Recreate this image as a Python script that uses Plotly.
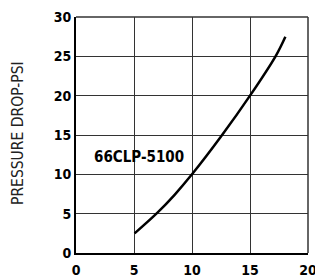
import plotly.graph_objects as go

flow_gpm = [5.05, 7.0, 8.5, 10.0, 12.5, 15.0, 17.2, 18.05]
pressure_psi = [2.5, 5.1, 7.4, 10.0, 14.8, 20.0, 25.0, 27.5]
x_ticks = [0, 5, 10, 15, 20]
y_ticks = [0, 5, 10, 15, 20, 25, 30]
series_label = "66CLP-5100"
y_title = "PRESSURE DROP-PSI"

narrow = "DejaVu Sans Condensed, Liberation Sans Narrow, Arial Narrow, sans-serif"

fig = go.Figure()
fig.add_trace(go.Scatter(x=flow_gpm, y=pressure_psi, mode="lines",
                         line=dict(color="black", width=2.5, shape="spline", smoothing=1.0),
                         showlegend=False, hoverinfo="skip"))
fig.add_annotation(x=1.4, y=12.2, text="<b>" + series_label + "</b>", showarrow=False,
                   xanchor="left", yanchor="middle",
                   font=dict(family=narrow, size=15, color="black"))
fig.add_annotation(xref="paper", yref="paper", x=0, y=0.5, xshift=-58, yshift=2, text=y_title,
                   textangle=-90, showarrow=False, xanchor="center", yanchor="middle",
                   font=dict(family=narrow, size=15.5, color="#222222"))
# top and right frame lines
fig.add_shape(type="line", xref="paper", yref="paper", x0=0, x1=1, y0=1, y1=1,
              line=dict(color="#333333", width=1.5))
fig.add_shape(type="line", xref="paper", yref="paper", x0=1, x1=1, y0=0, y1=1,
              line=dict(color="#333333", width=1.5))

fig.update_xaxes(range=[0, 20], tickvals=x_ticks, ticktext=[f"<b>{v}</b>" for v in x_ticks],
                 showgrid=True, gridcolor="#333333", gridwidth=1.2,
                 showline=True, linecolor="black", linewidth=2, mirror=False,
                 zeroline=False, ticks="", ticklen=0, automargin=False,
                 ticklabeloverflow="allow", ticklabelstandoff=3,
                 tickfont=dict(family=narrow, size=14, color="black"))
fig.update_yaxes(range=[0, 30], tickvals=y_ticks, ticktext=[f"<b>{v}</b>" for v in y_ticks],
                 showgrid=True, gridcolor="#333333", gridwidth=1.2,
                 showline=True, linecolor="black", linewidth=2, mirror=False,
                 zeroline=False, ticks="", ticklen=0, automargin=False,
                 ticklabeloverflow="allow",
                 tickfont=dict(family=narrow, size=14, color="black"))

# the page body adds an 8px offset, so the figure is sized to fit the window
fig.update_layout(width=315, height=272, margin=dict(l=68, r=15, t=9, b=27),
                  paper_bgcolor="white", plot_bgcolor="white")

fig.write_html("out.html")
